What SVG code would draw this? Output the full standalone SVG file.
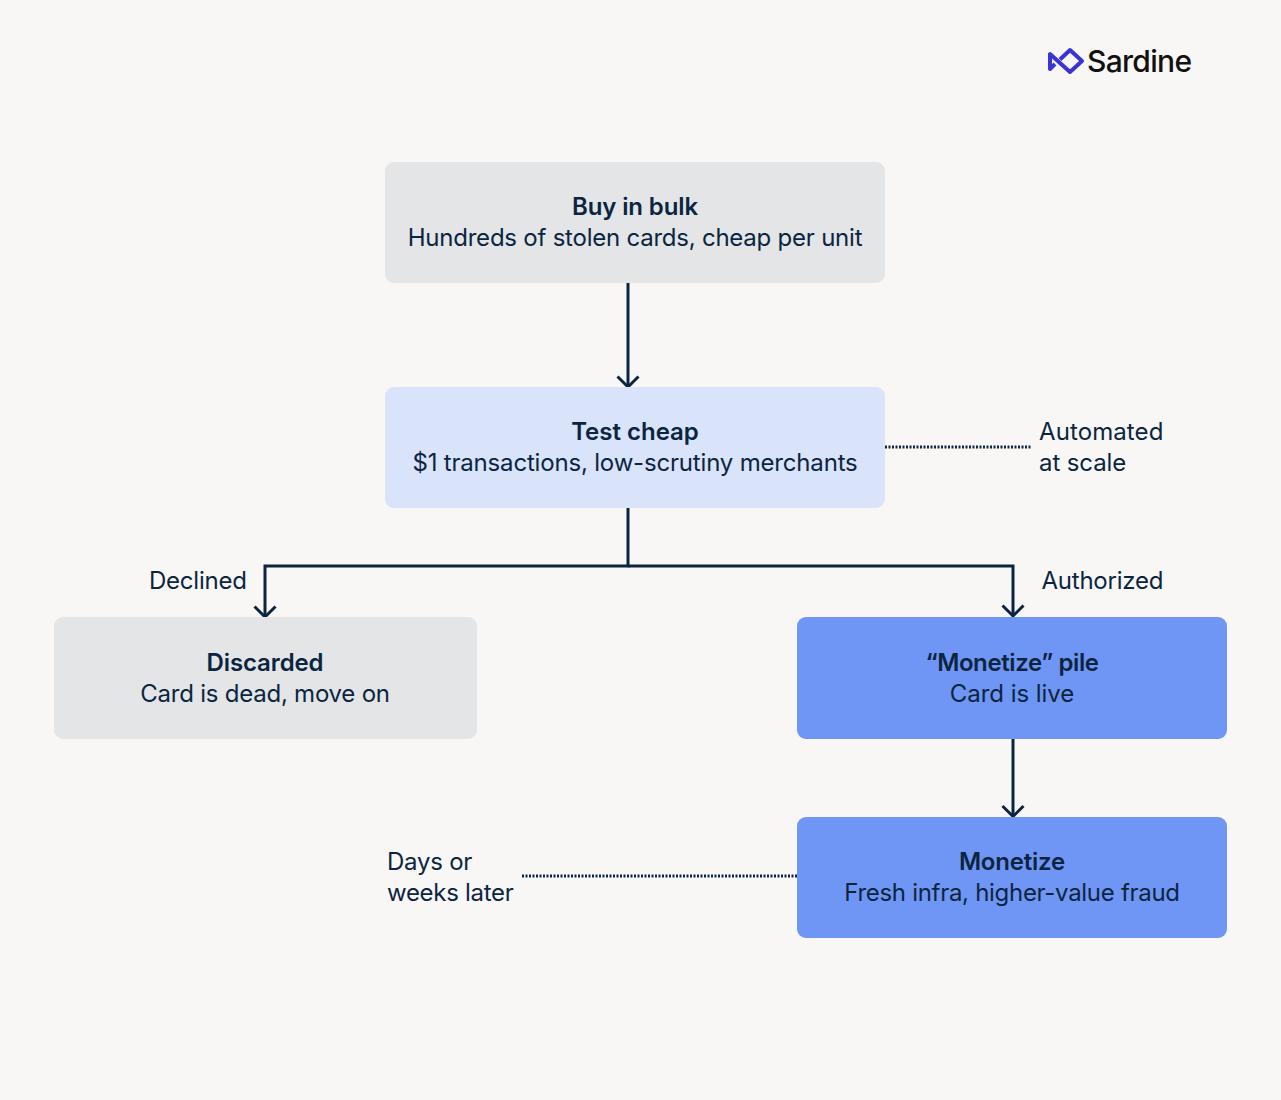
<svg xmlns="http://www.w3.org/2000/svg" width="1281" height="1100" viewBox="0 0 1281 1100">
<style>
text{font-family:Inter,"Liberation Sans",sans-serif;fill:#0b2541;font-size:24px;letter-spacing:-.23px}
.c{text-anchor:middle}
.b{font-weight:600;letter-spacing:-.12px}
.g{fill:#e3e5e7}.l{fill:#d9e3fa}.m{fill:#7096f5}
.w{fill:none;stroke:#0b2541;stroke-width:3}
.d{fill:none;stroke:#0b2541;stroke-width:3;stroke-dasharray:2 1.500}
</style>
<defs>
<marker id="a" markerUnits="userSpaceOnUse" markerWidth="18" markerHeight="28" refX="14" refY="14" orient="auto" viewBox="0 0 18 28"><path d="M3.500 3.500L14 14L3.500 24.500" fill="none" stroke="#0b2541" stroke-width="3"/></marker>
</defs>
<rect width="1281" height="1100" fill="#f8f7f5"/>
<g id="connectors">
<path class="w" d="M628 283V387" marker-end="url(#a)"/>
<path class="w" d="M628 508V566H265V617" marker-end="url(#a)"/>
<path class="w" d="M628 566H1013V616" marker-end="url(#a)"/>
<path class="w" d="M1013 739V816.500" marker-end="url(#a)"/>
<path class="d" d="M885 447H1032"/>
<path class="d" d="M522 876H797"/>
</g>
<g id="logo">
<path d="M1060 59.500L1070 50L1082 61L1070 72L1050 54V69L1055 64" fill="none" stroke="#3a34d6" stroke-width="4" stroke-linejoin="round"/>
<text x="1087" y="72" style="font-size:30px;font-weight:500;fill:#111;letter-spacing:-.7px">Sardine</text>
</g>
<g id="n1"><rect class="g" x="385" y="162" width="500" height="121" rx="9"/>
<text class="c b" x="635" y="215">Buy in bulk</text><text class="c" x="635" y="246">Hundreds of stolen cards, cheap per unit</text></g>
<g id="n2"><rect class="l" x="385" y="387" width="500" height="121" rx="9"/>
<text class="c b" x="635" y="440" style="letter-spacing:0">Test cheap</text><text class="c" x="635" y="471" style="letter-spacing:-.18px">$1 transactions, low-scrutiny merchants</text></g>
<g id="n3"><rect class="g" x="54" y="617" width="423" height="122" rx="9"/>
<text class="c b" x="265" y="671">Discarded</text><text class="c" x="265" y="702">Card is dead, move on</text></g>
<g id="n4"><rect class="m" x="797" y="617" width="430" height="122" rx="9"/>
<text class="c b" x="1012" y="671" style="letter-spacing:-.4px">“Monetize” pile</text><text class="c" x="1012" y="702" style="letter-spacing:-.05px">Card is live</text></g>
<g id="n5"><rect class="m" x="797" y="817" width="430" height="121" rx="9"/>
<text class="c b" x="1012" y="870" style="letter-spacing:-.2px">Monetize</text><text class="c" x="1012" y="901" style="letter-spacing:-.3px">Fresh infra, higher-value fraud</text></g>
<g id="labels">
<text x="1039" y="440" style="letter-spacing:.1px">Automated</text><text x="1039" y="471" style="letter-spacing:-.1px">at scale</text>
<text x="149" y="589">Declined</text>
<text x="1041.500" y="589">Authorized</text>
<text x="387" y="870">Days or</text><text x="387" y="901" style="letter-spacing:-.3px">weeks later</text>
</g>
</svg>
